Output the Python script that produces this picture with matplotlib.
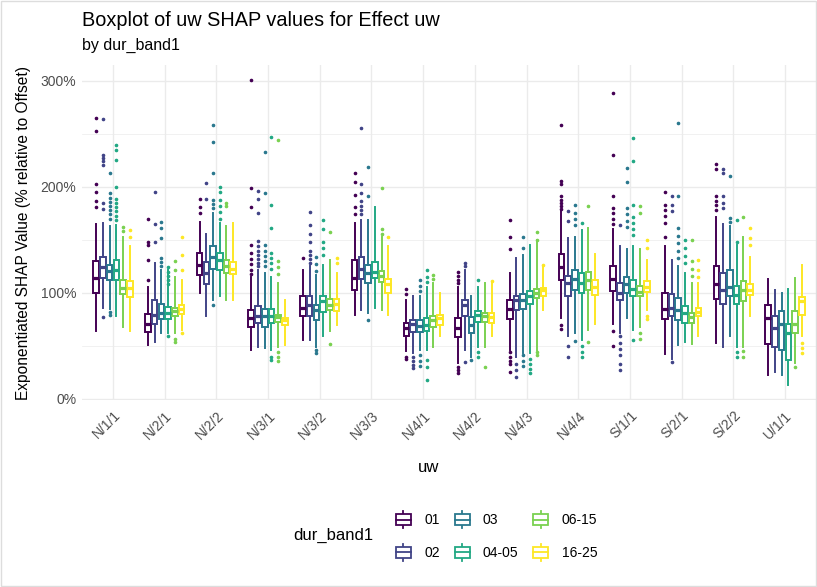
import matplotlib.pyplot as plt
from matplotlib.patches import Rectangle
from matplotlib.lines import Line2D
from matplotlib.legend_handler import HandlerBase
from matplotlib.ticker import FuncFormatter, MultipleLocator
from matplotlib.transforms import ScaledTranslation

plt.rcParams['font.family'] = ['Liberation Sans', 'DejaVu Sans']

categories = ['N/1/1', 'N/2/1', 'N/2/2', 'N/3/1', 'N/3/2', 'N/3/3', 'N/4/1',
              'N/4/2', 'N/4/3', 'N/4/4', 'S/1/1', 'S/2/1', 'S/2/2', 'U/1/1']
groups = ['01', '02', '03', '04-05', '06-15', '16-25']
colors = ['#440154', '#414487', '#2A788E', '#22A884', '#7AD151', '#FDE725']

# box statistics, one row per category, one column per dur_band1 group
q3 = [[1.30, 1.34, 1.26, 1.31, 1.12, 1.11],
      [0.80, 0.93, 0.90, 0.87, 0.86, 0.89],
      [1.38, 1.29, 1.44, 1.38, 1.31, 1.29],
      [0.84, 0.88, 0.85, 0.85, 0.79, 0.76],
      [0.97, 0.97, 0.89, 0.97, 0.94, 0.94],
      [1.31, 1.34, 1.26, 1.29, 1.21, 1.13],
      [0.72, 0.74, 0.74, 0.76, 0.78, 0.79],
      [0.76, 0.93, 0.77, 0.83, 0.81, 0.81],
      [0.93, 0.97, 0.99, 1.02, 1.04, 1.05],
      [1.37, 1.16, 1.22, 1.19, 1.20, 1.12],
      [1.25, 1.09, 1.15, 1.12, 1.07, 1.11],
      [1.00, 0.99, 0.95, 0.88, 0.81, 0.86],
      [1.25, 1.19, 1.22, 1.07, 1.11, 1.08],
      [0.89, 0.78, 0.83, 0.71, 0.83, 0.96]]

median = [[1.14, 1.24, 1.21, 1.22, 1.05, 1.05],
          [0.71, 0.79, 0.81, 0.81, 0.83, 0.85],
          [1.26, 1.19, 1.34, 1.31, 1.25, 1.23],
          [0.76, 0.78, 0.78, 0.78, 0.77, 0.74],
          [0.86, 0.89, 0.84, 0.92, 0.89, 0.90],
          [1.14, 1.23, 1.19, 1.20, 1.16, 1.08],
          [0.67, 0.71, 0.69, 0.70, 0.74, 0.76],
          [0.67, 0.89, 0.70, 0.79, 0.78, 0.77],
          [0.85, 0.93, 0.93, 0.97, 1.00, 1.03],
          [1.24, 1.09, 1.13, 1.09, 1.12, 1.06],
          [1.13, 1.00, 1.08, 1.04, 1.01, 1.06],
          [0.85, 0.86, 0.84, 0.81, 0.77, 0.82],
          [1.08, 1.03, 1.06, 0.98, 1.03, 1.03],
          [0.76, 0.67, 0.71, 0.62, 0.71, 0.92]]

q1 = [[1.00, 1.14, 1.12, 1.12, 0.99, 0.96],
      [0.63, 0.71, 0.75, 0.75, 0.78, 0.80],
      [1.17, 1.08, 1.23, 1.22, 1.19, 1.18],
      [0.68, 0.72, 0.68, 0.72, 0.73, 0.70],
      [0.78, 0.78, 0.74, 0.82, 0.84, 0.83],
      [1.03, 1.13, 1.09, 1.14, 1.10, 1.00],
      [0.59, 0.63, 0.63, 0.64, 0.68, 0.70],
      [0.58, 0.78, 0.62, 0.73, 0.73, 0.72],
      [0.75, 0.84, 0.85, 0.90, 0.95, 0.97],
      [1.12, 0.97, 1.03, 1.00, 1.03, 0.98],
      [1.02, 0.93, 1.00, 0.97, 0.97, 1.01],
      [0.75, 0.78, 0.74, 0.72, 0.72, 0.78],
      [0.94, 0.90, 0.97, 0.90, 0.92, 0.98],
      [0.52, 0.49, 0.46, 0.37, 0.62, 0.79]]

whisker_hi = [[1.65, 1.66, 1.63, 1.64, 1.53, 1.44],
              [1.06, 1.28, 1.22, 1.22, 1.15, 1.12],
              [1.67, 1.56, 1.75, 1.66, 1.63, 1.66],
              [1.15, 1.22, 1.19, 1.15, 1.09, 0.93],
              [1.22, 1.25, 1.17, 1.26, 1.31, 1.19],
              [1.66, 1.69, 1.69, 1.81, 1.53, 1.44],
              [0.93, 0.97, 0.97, 1.06, 1.09, 1.00],
              [1.06, 1.22, 0.97, 1.06, 1.09, 1.09],
              [1.19, 1.33, 1.36, 1.45, 1.50, 1.25],
              [1.78, 1.52, 1.53, 1.59, 1.61, 1.37],
              [1.60, 1.44, 1.41, 1.44, 1.41, 1.31],
              [1.44, 1.31, 1.25, 1.19, 1.09, 1.09],
              [1.72, 1.65, 1.63, 1.45, 1.53, 1.34],
              [1.13, 1.03, 1.00, 1.04, 1.14, 1.26]]

whisker_lo = [[0.64, 0.86, 0.85, 0.78, 0.68, 0.64],
              [0.51, 0.54, 0.62, 0.62, 0.62, 0.65],
              [1.00, 0.78, 0.93, 0.97, 0.93, 0.93],
              [0.46, 0.49, 0.48, 0.46, 0.49, 0.51],
              [0.56, 0.56, 0.49, 0.59, 0.64, 0.70],
              [0.79, 0.84, 0.81, 0.86, 0.84, 0.79],
              [0.45, 0.43, 0.46, 0.46, 0.49, 0.59],
              [0.34, 0.46, 0.40, 0.49, 0.49, 0.59],
              [0.46, 0.40, 0.43, 0.43, 0.46, 0.84],
              [0.76, 0.59, 0.62, 0.56, 0.65, 0.71],
              [0.71, 0.62, 0.76, 0.65, 0.68, 0.84],
              [0.42, 0.38, 0.51, 0.54, 0.52, 0.59],
              [0.53, 0.49, 0.59, 0.49, 0.49, 0.78],
              [0.23, 0.25, 0.23, 0.13, 0.34, 0.59]]

# outliers per group, one list per category
outliers_01 = [[2.65, 2.53, 2.03, 1.95, 1.87, 1.81], [1.70, 1.48, 1.45, 1.31, 1.12],
               [1.89, 1.81, 1.75], [3.01, 1.99, 1.81, 1.45, 1.38, 1.32, 1.27, 1.22, 1.18],
               [1.33], [2.13, 2.05, 1.92, 1.81, 1.74], [1.04, 0.99, 0.40, 0.38],
               [1.20, 1.16, 1.12, 1.09, 0.30, 0.27, 0.24],
               [1.69, 1.53, 1.41, 0.44, 0.40, 0.36, 0.33, 0.25],
               [2.58, 2.06, 2.03, 1.91, 1.88, 1.85, 1.82, 1.79, 0.70, 0.66],
               [2.89, 2.30, 1.91, 1.80, 1.75, 1.70, 1.65, 0.64, 0.50],
               [1.95, 1.83, 1.78, 1.73, 1.66, 1.53], [2.22, 2.17, 1.91, 1.87, 1.83, 1.78], []]
outliers_02 = [[2.64, 2.30, 2.27, 2.24, 2.21, 1.85, 1.79, 0.77], [1.95, 1.65, 1.48],
               [2.04, 1.89], [1.96, 1.89, 1.75, 1.49, 1.44, 1.40, 1.36, 1.32, 1.28, 1.25],
               [1.76, 1.64, 1.56, 1.48, 1.40, 1.36, 1.32, 1.28],
               [2.56, 2.03, 1.94, 1.87, 1.82, 1.78, 1.74], [0.40, 0.36, 0.32, 0.29],
               [1.28, 1.25, 0.35], [0.33, 0.27, 0.21], [1.77, 1.68, 0.50, 0.40],
               [1.64, 0.59, 0.53, 0.47, 0.41, 0.33, 0.27], [1.91, 1.83, 1.77, 0.35],
               [2.17, 2.13, 1.91, 1.85, 1.80], []]
outliers_03 = [[2.13, 1.94, 1.90, 1.86, 1.82, 1.78, 1.74, 1.70, 0.82, 0.79],
               [1.67, 1.61, 1.52, 1.33, 1.29, 1.25], [2.58, 2.42, 2.13, 1.88, 1.84, 1.80, 0.89],
               [2.33, 1.94, 1.45, 1.40, 1.35, 1.30, 1.25], [1.34, 1.27, 1.21, 0.46, 0.43],
               [2.19, 1.91, 0.74], [1.12, 1.07, 1.02, 0.41, 0.36, 0.31], [0.37],
               [1.53, 1.42, 0.41, 0.36, 0.31], [1.83, 1.75, 1.70, 1.64, 0.55],
               [2.18, 2.05, 1.80, 1.74, 1.68, 1.62], [2.60, 1.91, 1.61, 1.54, 1.47, 1.40, 1.33],
               [2.10, 1.71, 1.67], []]
outliers_0405 = [[2.40, 2.35, 2.25, 2.00, 1.89, 1.85, 1.81, 1.77, 1.73, 1.69],
                 [1.24, 1.20, 1.16, 1.12, 1.08, 0.59], [2.00, 1.95, 1.88, 1.82, 1.76, 1.70],
                 [2.47, 1.83, 1.61, 1.38, 1.33, 1.28, 1.23, 0.40, 0.37],
                 [1.69, 1.60, 1.48, 1.42, 1.36], [], [1.22, 1.15, 1.10, 0.37, 0.30, 0.18],
                 [1.12, 0.44, 0.40], [0.38, 0.33, 0.28, 0.24], [1.66, 0.50, 0.44, 0.40],
                 [2.46, 2.24, 1.83, 1.72, 1.66, 1.60, 1.55, 0.56], [1.50, 1.42, 1.35, 1.28],
                 [1.69, 1.48, 0.44, 0.40], []]
outliers_0615 = [[1.62, 1.58], [1.30, 1.22, 0.57, 0.54], [1.85, 1.82],
                 [2.44, 1.30, 1.24, 1.18, 0.44, 0.40, 0.36], [1.57, 0.52], [1.99, 1.60, 1.56],
                 [1.17, 1.13], [0.30], [1.57, 1.50, 0.44, 0.41], [1.82, 0.54],
                 [1.82, 1.75, 0.62, 0.57], [1.50, 1.30, 1.23, 1.16], [1.72, 0.45, 0.40], [0.30]]
outliers_1625 = [[1.59, 1.53], [1.53, 1.36, 1.22, 0.62], [], [], [1.33, 1.28], [1.53], [],
                 [1.11], [1.26], [], [1.50, 1.42, 0.78, 0.75], [1.31, 1.22, 1.15],
                 [1.61, 1.52, 1.45], [0.53, 0.48, 0.43]]
outliers = [outliers_01, outliers_02, outliers_03, outliers_0405, outliers_0615, outliers_1625]

W, H = 817, 587
fig = plt.figure(figsize=(W / 100, H / 100), dpi=100)
ax = fig.add_axes([82 / W, 1 - 400 / H, (816 - 82) / W, (400 - 65) / H])

step = 0.13
for g, grp in enumerate(groups):
    stats = []
    for c in range(len(categories)):
        stats.append({'whislo': whisker_lo[c][g], 'q1': q1[c][g], 'med': median[c][g],
                      'q3': q3[c][g], 'whishi': whisker_hi[c][g], 'fliers': outliers[g][c]})
    pos = [c + (g - 2.5) * step for c in range(len(categories))]
    col = colors[g]
    ax.bxp(stats, positions=pos, widths=0.108, showcaps=False, patch_artist=True,
           boxprops=dict(facecolor='white', edgecolor=col, linewidth=1.4),
           medianprops=dict(color=col, linewidth=2.3),
           whiskerprops=dict(color=col, linewidth=1.4),
           flierprops=dict(marker='o', markersize=1.6, markerfacecolor=col,
                           markeredgecolor=col, linestyle='none'),
           manage_ticks=False)

ax.set_xlim(-0.6, len(categories) - 0.4)
ax.set_ylim(-0.01, 3.15)
ax.set_xticks(range(len(categories)))
ax.set_xticklabels(categories, rotation=45, ha='right', va='top', rotation_mode='anchor')
shift = ScaledTranslation(7 / 100, -4 / 100, fig.dpi_scale_trans)
for lbl in ax.get_xticklabels():
    lbl.set_transform(lbl.get_transform() + shift)
ax.yaxis.set_major_locator(MultipleLocator(1))
ax.yaxis.set_minor_locator(MultipleLocator(0.5))
ax.yaxis.set_major_formatter(FuncFormatter(lambda v, p: f'{int(round(v * 100))}%'))
ax.tick_params(axis='both', which='both', length=0, labelsize=10, labelcolor='#4D4D4D')
ax.tick_params(axis='x', pad=6)
ax.tick_params(axis='y', pad=4)
ax.grid(True, which='major', color='#EBEBEB', linewidth=1.0)
ax.grid(True, which='minor', axis='y', color='#EBEBEB', linewidth=0.5)
ax.set_axisbelow(True)
for s in ax.spines.values():
    s.set_visible(False)

ax.set_ylabel('Exponentiated SHAP Value (% relative to Offset)', fontsize=11.2, labelpad=7)

fig.text(82 / W, 1 - 11 / H, 'Boxplot of uw SHAP values for Effect uw', fontsize=14.3,
         ha='left', va='top')
fig.text(82 / W, 1 - 38 / H, 'by dur_band1', fontsize=11.5, ha='left', va='top')
fig.text(429 / W, 1 - 467 / H, 'uw', fontsize=12, ha='center', va='center')
fig.text(293 / W, 1 - 535 / H, 'dur_band1', fontsize=12, ha='left', va='center')


class BoxKey(HandlerBase):
    def create_artists(self, legend, orig_handle, xdescent, ydescent, width, height,
                       fontsize, trans):
        col = orig_handle.get_color()
        cx = width / 2 - xdescent
        bw = width * 0.9
        top = height * 0.8 - ydescent
        bot = height * 0.2 - ydescent
        mid = height * 0.5 - ydescent
        box = Rectangle((cx - bw / 2, bot), bw, top - bot, facecolor='white',
                        edgecolor=col, linewidth=1.3, transform=trans)
        med = Line2D([cx - bw / 2, cx + bw / 2], [mid, mid], color=col, linewidth=1.3,
                     transform=trans)
        w1 = Line2D([cx, cx], [top, height * 0.98 - ydescent], color=col, linewidth=1.3,
                    transform=trans)
        w2 = Line2D([cx, cx], [bot, height * 0.02 - ydescent], color=col, linewidth=1.3,
                    transform=trans)
        return [w1, w2, box, med]


handles = [Line2D([], [], color=c) for c in colors]
fig.legend(handles, groups, handler_map={Line2D: BoxKey()}, ncol=3, frameon=False,
           loc='center left', bbox_to_anchor=(395 / W, 1 - 536 / H), fontsize=10,
           handlelength=1.2, handleheight=1.6, labelspacing=1.05, handletextpad=0.9,
           columnspacing=1.0, borderpad=0, borderaxespad=0)

fig.add_artist(Rectangle((0.001, 0.001), 0.998, 0.997, transform=fig.transFigure,
                         fill=False, edgecolor='#DDDDDD', linewidth=1.0))

fig.savefig('out.png', dpi=100, facecolor='white')
